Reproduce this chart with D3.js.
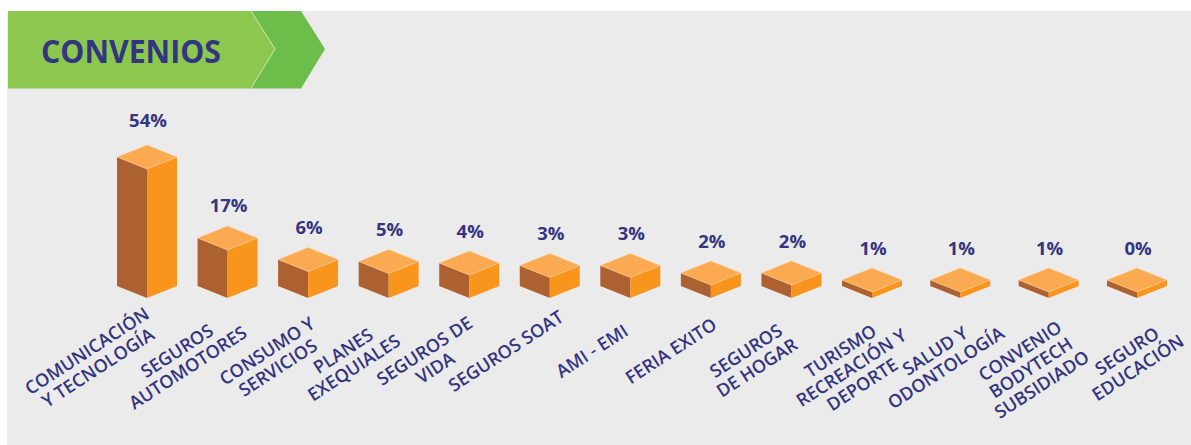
<!DOCTYPE html>
<html>
<head>
<meta charset="utf-8">
<script src="https://cdn.jsdelivr.net/npm/d3@7"></script>
<style>
  html, body { margin: 0; padding: 0; background: #fff; }
  svg { display: block; }
  text { font-family: "Open Sans", sans-serif; fill: #333580; }
</style>
</head>
<body>
<svg id="chart"></svg>
<script>
var title = "CONVENIOS";

var categories = [
  ["COMUNICACIÓN", "Y TECNOLOGÍA"],
  ["SEGUROS", "AUTOMOTORES"],
  ["CONSUMO Y", "SERVICIOS"],
  ["PLANES", "EXEQUIALES"],
  ["SEGUROS DE", "VIDA"],
  ["SEGUROS SOAT"],
  ["AMI - EMI"],
  ["FERIA EXITO"],
  ["SEGUROS", "DE HOGAR"],
  ["TURISMO", "RECREACIÓN Y", "DEPORTE"],
  ["SALUD Y", "ODONTOLOGÍA"],
  ["CONVENIO", "BODYTECH", "SUBSIDIADO"],
  ["SEGURO", "EDUCACIÓN"]
];
var values = [54, 17, 6, 5, 4, 3, 3, 2, 2, 1, 1, 1, 0];

var width = 1191,
  height = 445;

var vis = d3.select("#chart")
  .attr("width", width)
  .attr("height", height);

// grey panel
vis.append("rect")
  .attr("x", 7).attr("y", 11)
  .attr("width", width - 7).attr("height", height - 11)
  .attr("fill", "#ebebeb");

// title ribbon
var ribbonLine = d3.line();
vis.append("path")
  .attr("d", ribbonLine([[251, 11], [301, 11], [325, 49], [301, 88.5], [251, 88.5], [275, 49]]) + "Z")
  .attr("fill", "#6cbd4a");
vis.append("path")
  .attr("d", ribbonLine([[8, 11], [251, 11], [275, 49], [251, 88.5], [8, 88.5]]) + "Z")
  .attr("fill", "#8cc84f");
vis.append("path")
  .attr("d", ribbonLine([[251, 11], [275, 49], [251, 88.5]]))
  .attr("fill", "none")
  .attr("stroke", "#c9e2a6")
  .attr("stroke-width", 1);
vis.append("text")
  .attr("x", 41).attr("y", 62.5)
  .attr("font-size", 32)
  .attr("font-weight", 700)
  .attr("textLength", 180)
  .attr("lengthAdjust", "spacingAndGlyphs")
  .text(title);

// bars are slightly wider spaced on the right hand side
var x = d3.scaleLinear()
  .domain([0, 9, 12])
  .range([147, 872, 1137]);

// names don't follow the bars exactly, this is where each first line sits
var xLabel = d3.scaleLinear()
  .domain([0, 2, 3, 5, 6, 7, 8, 10, 11, 12])
  .range([87, 267, 343, 506, 592, 671, 746, 935, 1020, 1127]);

// picture is not linear, small values are squeezed
var h = d3.scaleLinear()
  .domain([0, 1, 2, 3, 4, 5, 6, 17, 54])
  .range([6, 6, 13, 20.5, 23, 24.5, 26.5, 48, 129]);

// tall bars keep their number a bit further away
var gap = d3.scaleLinear()
  .domain([0, 17, 54])
  .range([13, 14, 18]);

var baseY = 298,
  halfW = 30,
  depth = 12;

var bars = vis.selectAll(".bar").data(values)
  .enter().append("g")
  .attr("class", "bar");

function poly(pts) {
  return ribbonLine(pts) + "Z";
}

bars.append("path")
  .attr("fill", "#ad6030")
  .attr("d", function(d, i) {
    var c = x(i), t = baseY - h(d);
    return poly([[c - halfW, t - depth], [c, t], [c, baseY], [c - halfW, baseY - depth]]);
  });
bars.append("path")
  .attr("fill", "#f9951d")
  .attr("d", function(d, i) {
    var c = x(i), t = baseY - h(d);
    return poly([[c, t], [c + halfW, t - depth], [c + halfW, baseY - depth], [c, baseY]]);
  });
bars.append("path")
  .attr("fill", "#fbaa52")
  .attr("stroke", "#fbd3a3")
  .attr("stroke-width", 0.5)
  .attr("d", function(d, i) {
    var c = x(i), t = baseY - h(d);
    return poly([[c, t], [c + halfW, t - depth], [c, t - 2 * depth], [c - halfW, t - depth]]);
  });

bars.append("text")
  .attr("x", function(d, i) { return x(i) + 1; })
  .attr("y", function(d) { return baseY - h(d) - 2 * depth - gap(d); })
  .attr("text-anchor", "middle")
  .attr("font-size", 18.5)
  .attr("font-weight", 700)
  .text(function(d) { return d + "%"; });

// rotated category names
var lineGap = 20;
var labels = vis.selectAll(".cat").data(categories)
  .enter().append("text")
  .attr("class", "cat")
  .attr("font-size", 18)
  .attr("font-weight", 600)
  .attr("text-anchor", "middle")
  .attr("transform", function(d, i) {
    return "translate(" + xLabel(i) + ",351) rotate(-33)";
  });

labels.selectAll("tspan").data(function(d) { return d; })
  .enter().append("tspan")
  .attr("x", 0)
  .attr("y", function(d, i) { return i * lineGap; })
  .attr("dy", "0.35em")
  .text(function(d) { return d; });
</script>
</body>
</html>
